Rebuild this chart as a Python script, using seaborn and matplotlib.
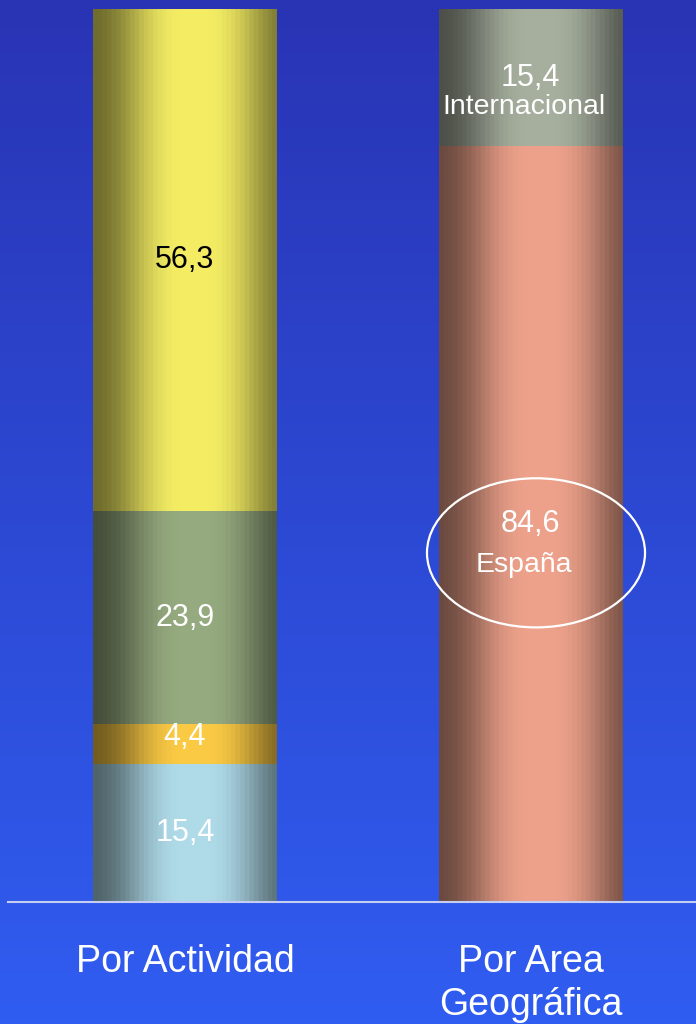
import numpy as np
import pandas as pd
import matplotlib
matplotlib.use("Agg")
import matplotlib.pyplot as plt
from matplotlib.patches import Ellipse
from matplotlib.colors import to_rgb
import seaborn as sns

# data, bottom to top in each bar
groups = ["Por Actividad", "Por Area\nGeográfica"]

act_values = [15.4, 4.4, 23.9, 56.3]
act_numbers = ["15,4", "4,4", "23,9", "56,3"]
act_colors = ["#b0dcea", "#fccb45", "#97ab80", "#f5ee64"]
act_text = ["white", "white", "white", "black"]

geo_values = [84.6, 15.4]
geo_numbers = ["84,6", "15,4"]
geo_names = ["España", "Internacional"]
geo_colors = ["#eea28b", "#a7b09f"]

FONT = ["Liberation Sans", "DejaVu Sans"]


def build_segments():
    rows = []
    for grp, vals, nums, cols, names, tcols in [
        (groups[0], act_values, act_numbers, act_colors, [""] * 4, act_text),
        (groups[1], geo_values, geo_numbers, geo_colors, geo_names, ["white"] * 2),
    ]:
        bottom = 0.0
        for v, n, c, nm, tc in zip(vals, nums, cols, names, tcols):
            rows.append(dict(group=grp, value=v, number=n, color=c, name=nm,
                             text_color=tc, bottom=bottom, top=bottom + v))
            bottom += v
    return pd.DataFrame(rows)


def cylinder(color, n=300, bands=40):
    # horizontal shading so the bar looks like a cylinder
    t = np.linspace(0, 1, n)
    t = np.floor(t * bands) / bands + 0.5 / bands
    m = 0.43 + 0.57 * np.exp(-np.abs((t - 0.55) / 0.37) ** 3)
    rgb = np.array(to_rgb(color))
    return np.clip(m[None, :, None] * rgb[None, None, :], 0, 1)


df = build_segments()

fig = plt.figure(figsize=(6.96, 10.24), dpi=100)

# blue gradient background
ax_bg = fig.add_axes([0, 0, 1, 1], zorder=0)
top_c = np.array(to_rgb("#2934b4"))
bot_c = np.array(to_rgb("#305df1"))
g = np.linspace(0, 1, 256)[:, None, None]
ax_bg.imshow(top_c + (bot_c - top_c) * g, aspect="auto", extent=[0, 1, 0, 1])
ax_bg.set_axis_off()

W, H = 696, 1024
base_y, top_y = 902, 9
ax = fig.add_axes([8 / W, (H - base_y) / H, (W - 8) / W, (base_y - top_y) / H], zorder=1)
ax.set_facecolor("none")

# tallest segments first so shorter ones sit on top
for k, (_, r) in enumerate(df.sort_values("top", ascending=False).iterrows()):
    sns.barplot(x=[r["group"]], y=[r["top"]], order=groups, color=r["color"],
                saturation=1, width=0.53, edgecolor="none", ax=ax, zorder=2)
    p = ax.patches[-1]
    x0, w = p.get_x(), p.get_width()
    ax.imshow(cylinder(r["color"]), aspect="auto", interpolation="bilinear",
              extent=[x0, x0 + w, r["bottom"], r["top"]], zorder=3 + k)

ax.set_xlim(-0.512, 1.479)
ax.set_ylim(0, 100)

# segment labels
for _, r in df.iterrows():
    xc = groups.index(r["group"])
    yc = (r["bottom"] + r["top"]) / 2
    if r["number"] == "4,4":
        yc += 0.9
    if r["name"]:
        gap = 29 if r["name"] == "España" else 21
        ax.annotate(r["number"], (xc, yc), xytext=(0, 0), textcoords="offset points",
                    ha="center", va="center", fontsize=22, color=r["text_color"],
                    family=FONT, zorder=20)
        ax.annotate(r["name"], (xc, yc), xytext=(-4.5, -gap), textcoords="offset points",
                    ha="center", va="center", fontsize=20.5, color=r["text_color"],
                    family=FONT, zorder=20)
    else:
        ax.text(xc, yc, r["number"], ha="center", va="center", fontsize=22,
                color=r["text_color"], family=FONT, zorder=20)

# highlight ellipse around España
spain = df[df["name"] == "España"].iloc[0]
ey = (spain["bottom"] + spain["top"]) / 2 - 3.2
ax.add_patch(Ellipse((1.016, ey), 0.631, 16.7, fill=False, edgecolor="white",
                     linewidth=1.6, zorder=21))

for s in ["top", "left", "right"]:
    ax.spines[s].set_visible(False)
ax.spines["bottom"].set_color("#c5cdf2")
ax.spines["bottom"].set_linewidth(1.5)
ax.spines["bottom"].set_zorder(30)
ax.set_yticks([])
ax.set_xlabel("")
ax.set_ylabel("")
ax.set_xticks(range(len(groups)))
ax.set_xticklabels(groups, fontsize=27, color="white", family=FONT, linespacing=1.25)
ax.tick_params(axis="x", length=0, pad=30)

fig.savefig("out.png", dpi=100)
